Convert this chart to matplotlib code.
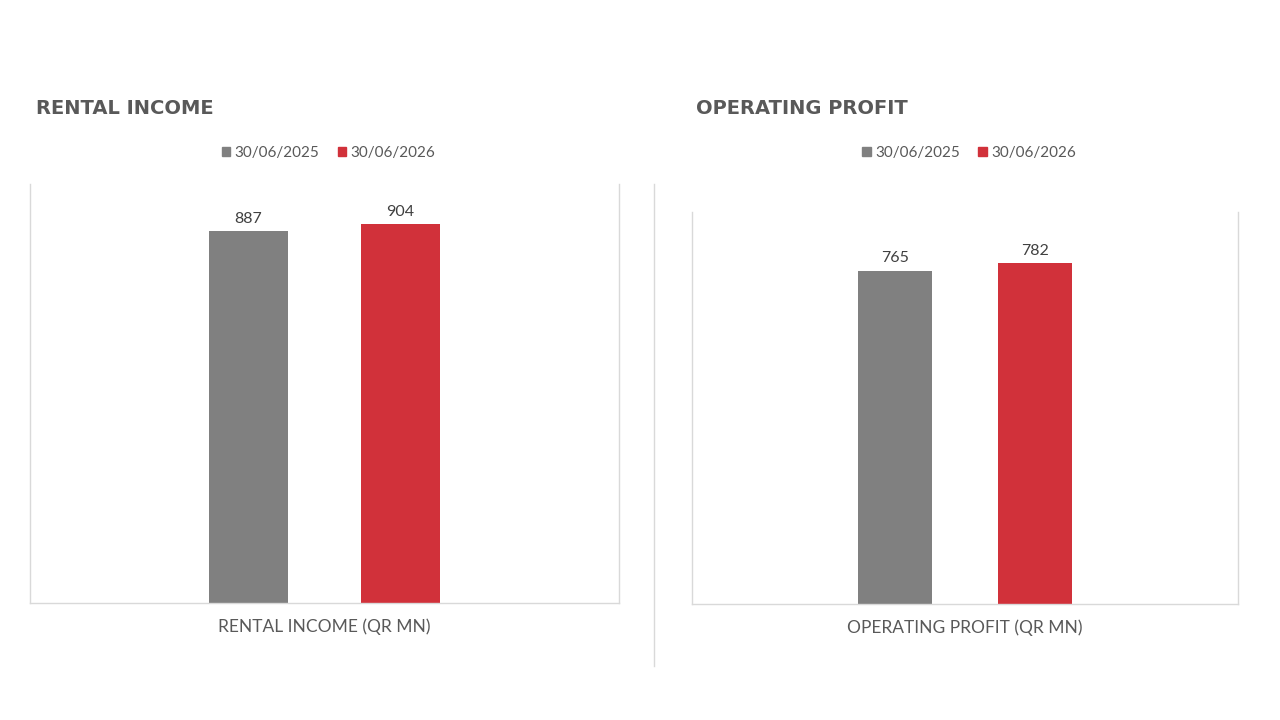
import matplotlib
matplotlib.use('Agg')
from matplotlib import pyplot as plt
from matplotlib.lines import Line2D

# chart data
titles = ['RENTAL INCOME', 'OPERATING PROFIT']
categories = ['RENTAL INCOME (QR MN)', 'OPERATING PROFIT (QR MN)']
periods = ['30/06/2025', '30/06/2026']
values_2025 = [887, 765]
values_2026 = [904, 782]
y_max = [1000, 900]

GREY = '#808080'
RED = '#D1313A'
TEXT = '#595959'
LABEL = '#404040'
FRAME = '#D9D9D9'

plt.rcParams['font.family'] = ['Lato', 'DejaVu Sans']


def draw_panel(fig, rect, title, title_x, category, v_old, v_new, top):
    """
    Draw one clustered bar panel in the Excel style of the reference
    """
    ax = fig.add_axes(rect)
    x = [0, 1]
    bars = ax.bar(x, [v_old, v_new], width=0.525, color=[GREY, RED])
    ax.bar_label(bars, labels=[f'{v_old:,}', f'{v_new:,}'], padding=4,
                 fontsize=11.5, color=LABEL)
    ax.set_xlim(-1.44, 2.44)
    ax.set_ylim(0, top)
    ax.set_yticks([])
    ax.set_xticks([0.5], [category])
    ax.tick_params(axis='x', length=0, pad=11, labelsize=12.5, labelcolor=TEXT)
    ax.spines['top'].set_visible(False)
    for side in ('left', 'right', 'bottom'):
        ax.spines[side].set_color(FRAME)
        ax.spines[side].set_linewidth(1)

    handles = [plt.Rectangle((0, 0), 1, 1, color=GREY),
               plt.Rectangle((0, 0), 1, 1, color=RED)]
    ax.legend(handles, periods, loc='center', ncol=2, frameon=False,
              bbox_to_anchor=(rect[0] + rect[2] / 2 + 4 / 1280, 1 - 153 / 720),
              bbox_transform=fig.transFigure, fontsize=11,
              handlelength=0.55, handleheight=0.55, handletextpad=0.3,
              columnspacing=1.2, labelcolor=TEXT)

    fig.text(title_x, 1 - 109 / 720, title, fontsize=14, fontweight='bold',
             color=TEXT, family='DejaVu Sans', va='center', ha='left')
    return ax


fig = plt.figure(figsize=(12.8, 7.2), dpi=100, facecolor='w')

draw_panel(fig, [30 / 1280, 117 / 720, 589 / 1280, 419 / 720],
           titles[0], 36 / 1280, categories[0],
           values_2025[0], values_2026[0], y_max[0])
draw_panel(fig, [692 / 1280, 116 / 720, 546 / 1280, 392 / 720],
           titles[1], 696 / 1280, categories[1],
           values_2025[1], values_2026[1], y_max[1])

# thin divider between the two panels
fig.add_artist(Line2D([654 / 1280, 654 / 1280], [1 - 184 / 720, 1 - 666 / 720],
                      transform=fig.transFigure, color=FRAME, lw=1))

fig.savefig('out.png', dpi=100, facecolor='w')
